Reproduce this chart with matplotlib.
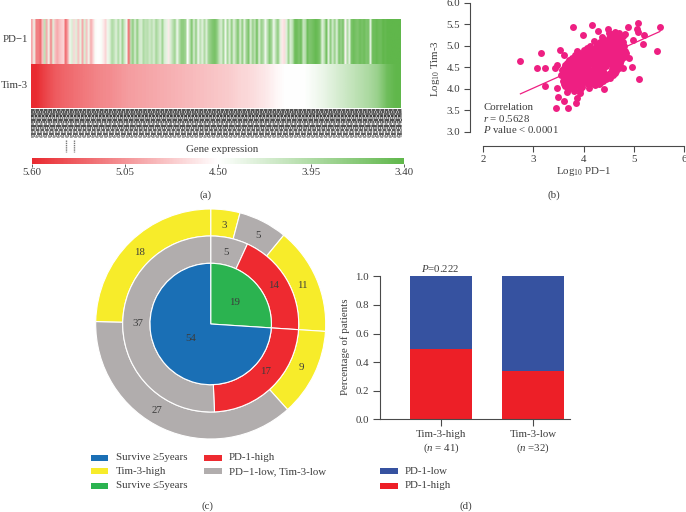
import matplotlib
matplotlib.use("Agg")
import matplotlib.pyplot as plt
import numpy as np
from matplotlib.colors import LinearSegmentedColormap, Normalize
from matplotlib.cm import ScalarMappable
from matplotlib.patches import Rectangle

plt.rcParams['font.family'] = ['Liberation Serif', 'DejaVu Serif']
plt.rcParams['mathtext.fontset'] = 'custom'
plt.rcParams['mathtext.rm'] = 'Liberation Serif'
plt.rcParams['mathtext.it'] = 'Liberation Serif:italic'

W, H = 686, 512
TXT = '#3c3c3c'
AX = '#4a4a4a'
FS = 7.8

# ---------- data ----------
pd1_strip = [
 .3,.55,.2,.2,.15,.35,.7,.3,.55,.2,.6,.35,.3,.35,.38,.4,.15,.3,.55,.62,.4,.6,.35,.58,.3,.62,.35,.55,.3,.4,
 .52,.5,.5,.52,.45,.4,.55,.6,.75,.7,.6,.75,.6,.8,.65,.55,.15,.7,.85,.62,.85,.65,.62,.75,.7,.72,.65,.72,.62,.78,.7,.62,
 .8,.62,.58,.45,.62,.72,.8,.55,.72,.85,.85,.8,.5,.7,.9,.62,.85,.55,.72,.6,.75,.62,.8,.85,.9,.92,.85,.7,.62,.8,.55,.78,.62,.85,.6,.75,.9,.62,.85,.6,.8,.9,.62,.82,.7,.95,.6,.82,.75,.55,.72,.88,.78,.55,.72,.85,.6,.45,
 .42,.6,.8,.62,.72,.95,.95,.9,.95,.68,.72,.95,.9,.92,.95,.98,.95,.9,.6,.7,.95,.6,.85,.65,.82,.6,.9,.82,.92,.48,.75,.6,.92,.95,.92,.9,.95,.92,.95,.9,.92,.6,.95,.95,.98,.95,.95,1,.98,1,1,1,1,1,1,1]
tim3_strip = [0,.06,.11,.14,.16,.18,.2,.22,.23,.25,.27,.28,.29,.3,.31,.32,.33,.34,.35,.36,
              .37,.38,.4,.41,.43,.45,.48,.5,.5,.5,.53,.56,.6,.64,.68,.72,.76,.82,.95,1]
expr_ticks = [5.60, 5.05, 4.50, 3.95, 3.40]

corr_x = [2.74,3.08,3.22,3.15,3.22,3.43,3.46,3.53,3.60,3.79,4.16,3.99,4.29,4.48,3.47,3.49,3.44,3.61,3.69,3.84,3.86,4.10,4.40,4.78,4.96,4.90,5.10,5.47,5.52,5.06,5.19,5.21,5.08,4.89,5.09,4.99,4.70,
  3.66,3.80,3.92,
  3.62,3.74,3.86,3.97,4.22,4.30,
  3.58,3.68,3.80,3.92,4.04,4.15,4.27,4.38,
  3.55,3.65,3.77,3.89,4.00,4.12,4.24,4.36,4.47,4.58,
  3.57,3.68,3.80,3.92,4.03,4.15,4.27,4.38,4.56,4.64,
  3.62,3.72,3.84,3.96,4.08,4.20,4.32,4.44,4.56,4.68,
  3.70,3.82,3.94,4.06,4.18,4.30,4.42,4.54,4.66,4.74,
  3.82,3.95,4.08,4.20,4.32,4.44,4.56,4.68,4.80,
  3.87,4.00,4.14,4.26,4.38,4.50,4.62,4.74,4.83,
  4.12,4.24,4.36,4.48,4.60,4.72,4.80,
  4.20,4.32,4.44,4.56,4.68,4.78,
  4.36,4.50,4.62,4.72,
  4.58,4.68,
  3.68,3.80,3.92,
  3.60,3.72,3.84,3.96,4.08,4.20,4.32,
  3.60,3.72,3.84,3.96,4.08,4.20,4.32,4.44,4.52,
  3.60,3.72,3.86,3.98,4.09,4.21,4.33,4.42,4.53,4.63,
  3.60,3.74,3.86,3.98,4.09,4.21,4.33,4.38,4.62,4.70,
  3.66,3.78,3.90,4.02,4.14,4.26,4.38,4.50,4.62,4.72,
  3.76,3.88,4.00,4.12,4.24,4.36,4.48,4.60,4.72,4.80,
  3.90,4.02,4.14,4.26,4.38,4.50,4.62,4.74,4.85,
  4.06,4.18,4.30,4.42,4.54,4.66,4.78,
  4.26,4.38,4.50,4.62,4.74,
  4.38,4.50,4.62,4.74,
  4.82,4.78,4.50,4.62]
corr_y = [4.64,4.49,4.49,4.84,4.07,4.47,4.55,4.90,4.78,5.44,5.48,5.25,5.35,5.38,4.01,3.81,3.54,3.71,3.54,3.66,3.78,4.01,3.99,4.48,4.51,4.71,4.22,4.87,5.43,5.39,5.05,5.25,5.52,5.43,5.32,5.13,5.29,
  3.93,3.95,3.90,
  4.06,4.03,4.08,4.04,4.08,4.12,
  4.18,4.15,4.19,4.16,4.18,4.14,4.20,4.17,
  4.31,4.28,4.32,4.29,4.31,4.28,4.32,4.29,4.31,4.33,
  4.43,4.41,4.44,4.41,4.43,4.40,4.44,4.41,4.46,4.42,
  4.54,4.52,4.55,4.53,4.55,4.52,4.56,4.53,4.55,4.54,
  4.66,4.64,4.67,4.65,4.66,4.64,4.67,4.65,4.67,4.66,
  4.78,4.76,4.79,4.77,4.78,4.76,4.79,4.77,4.79,
  4.88,4.90,4.87,4.90,4.88,4.90,4.87,4.90,4.88,
  5.00,4.98,5.01,4.99,5.00,4.98,5.00,
  5.10,5.08,5.11,5.09,5.10,5.08,
  5.20,5.18,5.21,5.19,
  5.28,5.26,
  4.00,3.99,3.98,
  4.12,4.10,4.13,4.11,4.12,4.10,4.13,
  4.24,4.22,4.25,4.23,4.24,4.22,4.25,4.23,4.24,
  4.36,4.35,4.37,4.35,4.36,4.34,4.37,4.35,4.36,4.37,
  4.48,4.47,4.49,4.47,4.48,4.46,4.49,4.49,4.48,4.48,
  4.60,4.58,4.61,4.59,4.60,4.58,4.61,4.59,4.60,4.60,
  4.72,4.70,4.73,4.71,4.72,4.70,4.73,4.71,4.72,4.73,
  4.83,4.82,4.84,4.82,4.83,4.82,4.84,4.82,4.83,
  4.94,4.93,4.95,4.93,4.94,4.93,4.95,
  5.05,5.03,5.05,5.04,5.05,
  5.15,5.14,5.15,5.14,
  5.28,5.22,5.30,5.33]
fit_x = [2.74, 5.52]
fit_y = [3.88, 5.33]

outer_vals = [3, 5, 11, 9, 27, 18]
middle_vals = [5, 14, 17, 37]
inner_vals = [19, 54]

bar_cats = ['Tim-3-high\n($\\mathit{n}$ = 41)', 'Tim-3-low\n($\\mathit{n}$ =32)']
pd1_high = [0.49, 0.34]
pd1_low = [0.51, 0.66]

BLUE, GREEN, RED, YEL, GREY = '#1a6fb5', '#2bb350', '#ee2a30', '#f7ec2a', '#b1adad'
PINK = '#ee1f82'
BAR_BLUE, BAR_RED = '#3652a0', '#ed1f27'

fig = plt.figure(figsize=(W/100, H/100), dpi=100)

def axpx(x0, y0, x1, y1, **kw):
    return fig.add_axes([x0/W, 1-y1/H, (x1-x0)/W, (y1-y0)/H], **kw)

bg = axpx(0, 0, W, H)
bg.set_xlim(0, W); bg.set_ylim(H, 0); bg.axis('off')

def t(x, y, s, ha='center', rot=0, fs=FS, **kw):
    bg.text(x, y, s, ha=ha, va='center', rotation=rot, fontsize=fs, color=TXT, **kw)

# ---------- (a) heatmap ----------
cmap = LinearSegmentedColormap.from_list('ge', ['#e92a30', '#ffffff', '#60b74b'])
a1 = axpx(31, 19, 401, 64); a1.axis('off')
a1.imshow([pd1_strip], cmap=cmap, vmin=0, vmax=1, aspect='auto', interpolation='bilinear')
a2 = axpx(31, 64, 401, 108); a2.axis('off')
a2.imshow([tim3_strip], cmap=cmap, vmin=0, vmax=1, aspect='auto', interpolation='bilinear')

# illegible sample-name band
row_y = [109.5, 111.5, 113.5, 115.5, 117.5, 119.5, 121.5, 123.5, 125.5, 127.5, 129.5, 131.5, 133.5, 135.5, 137]
row_dash = [(2, .3), (1, .3), (3, .3), (1.5, .4), (.8, .3), (2.5, .4), (1, .3), (1.6, .7),
            (3, .3), (.8, .4), (2, .5), (1.2, .4), (2.6, .6), (.8, .5), (1.5, .8)]
row_col = ['#4a4a4a', '#444', '#5f5f5f', '#333', '#777', '#444', '#555', '#8c8c8c',
           '#444', '#666', '#555', '#8c8c8c', '#555', '#777', '#999']
for y, d, c in zip(row_y, row_dash, row_col):
    bg.plot([31, 402], [y, y], color=c, lw=1.35, ls=(0, d), solid_capstyle='butt')
for x in (66, 74):
    bg.plot([x, x], [140, 152], color='#777', lw=1.0, ls=(0, (1, .6)))

cax = axpx(32, 158, 404, 164)
norm = Normalize(vmin=3.40, vmax=5.60)
cbar = fig.colorbar(ScalarMappable(norm=norm, cmap=cmap.reversed()), cax=cax, orientation='horizontal')
cbar.set_ticks(expr_ticks)
cbar.set_ticklabels(['%.2f' % v for v in expr_ticks])
cax.invert_xaxis()
cax.tick_params(length=2, width=.6, color=AX, labelsize=FS, labelcolor=TXT, pad=1)
cbar.outline.set_visible(False)
t(28, 40, 'PD\u22121', ha='right')
t(28, 85, 'Tim-3', ha='right')
t(222, 150, 'Gene expression')
t(205, 195, '(a)')

# ---------- (b) scatter ----------
b = axpx(470, 2.7, 684, 145.7)
x_per_px = 4/(684-483.3)
b.set_xlim(2-(483.3-470)*x_per_px, 6)
b.set_ylim(3-(145.7-131.7)/43, 6)
b.scatter(corr_x, corr_y, s=25, color=PINK, linewidths=0, zorder=3, clip_on=False)
b.plot(fit_x, fit_y, color=PINK, lw=.9, zorder=2)
for s in ('top', 'right'):
    b.spines[s].set_visible(False)
b.spines['left'].set_bounds(3, 6)
b.spines['bottom'].set_bounds(2, 6)
for s in ('left', 'bottom'):
    b.spines[s].set_color(AX); b.spines[s].set_linewidth(.8)
b.set_xticks([2, 3, 4, 5, 6]); b.set_yticks([3, 3.5, 4, 4.5, 5, 5.5, 6])
b.set_yticklabels(['3.0', '3.5', '4.0', '4.5', '5.0', '5.5', '6.0'])
b.tick_params(direction='out', length=4, width=.8, color=AX, labelsize=FS, labelcolor=TXT, pad=3)
b.patch.set_alpha(0)
t(435, 68, 'Log$_{10}$ Tim-3', rot=90)
t(584, 171, 'Log$_{10}$ PD\u22121')
t(483, 107, 'Correlation', ha='left', zorder=6)
t(483, 118.5, '$\\mathit{r}$ = 0.5628', ha='left')
t(483, 129.5, '$\\mathit{P}$ value < 0.0001', ha='left')
t(554, 195, '(b)')

# ---------- (c) nested pie ----------
c = axpx(90.7, 204, 330.7, 444)
wp = dict(edgecolor='white', linewidth=.8)
c.pie(outer_vals, radius=115, colors=[YEL, GREY, YEL, YEL, GREY, YEL], startangle=90,
      counterclock=False, wedgeprops=dict(width=27, **wp))
c.pie(middle_vals, radius=88, colors=[GREY, RED, RED, GREY], startangle=90,
      counterclock=False, wedgeprops=dict(width=27.3, **wp))
c.pie(inner_vals, radius=60.7, colors=[GREEN, BLUE], startangle=90,
      counterclock=False, wedgeprops=wp)
c.set_xlim(-120, 120); c.set_ylim(-120, 120); c.set_aspect('equal')
c.patch.set_alpha(0)
pie_labels = [(224, 225.7, 3), (257.7, 235, 5), (302, 285.7, 11), (301, 367.3, 9), (157, 410.3, 27),
              (139.3, 252.7, 18), (225.7, 252.7, 5), (273.7, 285.7, 14), (265.7, 371.3, 17),
              (138.3, 324, 37), (235, 302.7, 19), (191, 338.3, 54)]
bg.set_zorder(5)
for x, y, v in pie_labels:
    t(x, y, str(v))

def leg(x, y, col, s):
    bg.add_patch(Rectangle((x, y-3), 17.5, 6, color=col, lw=0))
    t(x+25, y, s, ha='left')

leg(90.5, 457.7, BLUE, 'Survive \u22655years')
leg(90.5, 471.3, YEL, 'Tim-3-high')
leg(90.5, 486, GREEN, 'Survive \u22645years')
leg(204, 457.7, RED, 'PD-1-high')
leg(204, 471.3, GREY, 'PD\u22121-low, Tim-3-low')
leg(380, 471.3, BAR_BLUE, 'PD-1-low')
leg(380, 486, BAR_RED, 'PD-1-high')
t(207, 506, '(c)')
t(466, 506, '(d)')

# ---------- (d) stacked bars ----------
d = axpx(380, 276.3, 570, 419.3)
pos = [61, 153]
d.bar(pos, pd1_high, width=61.5, color=BAR_RED)
d.bar(pos, pd1_low, width=61.5, bottom=pd1_high, color=BAR_BLUE)
d.set_xlim(0, 190); d.set_ylim(0, 1)
d.set_xticks(pos); d.set_xticklabels(bar_cats, linespacing=1.25)
d.set_yticks([0, .2, .4, .6, .8, 1]); d.set_yticklabels(['0.0', '0.2', '0.4', '0.6', '0.8', '1.0'])
for s in ('top', 'right'):
    d.spines[s].set_visible(False)
for s in ('left', 'bottom'):
    d.spines[s].set_color(AX); d.spines[s].set_linewidth(.8)
d.tick_params(direction='out', length=5, width=.8, color=AX, labelsize=FS, labelcolor=TXT, pad=3)
t(345.5, 347, 'Percentage of patients', rot=90)
t(440, 268, '$\\mathit{P}$=0.222')

fig.savefig('out.png', dpi=100)
